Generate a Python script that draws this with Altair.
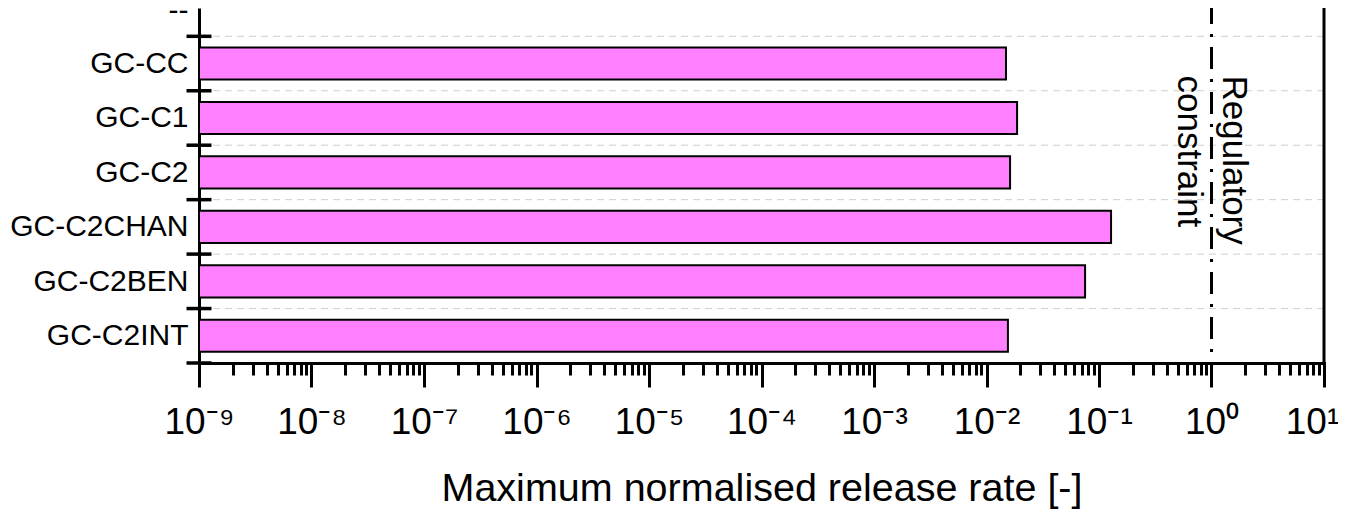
import altair as alt
import pandas as pd

# ---- data ----
categories = ["GC-CC", "GC-C1", "GC-C2", "GC-C2CHAN", "GC-C2BEN", "GC-C2INT"]
release_rate = [0.0149, 0.0187, 0.0162, 0.128, 0.0752, 0.0155]
top_label = "--"
tick_values = [1e-9, 1e-8, 1e-7, 1e-6, 1e-5, 1e-4, 1e-3, 1e-2, 1e-1, 1e0, 1e1]
tick_labels = ["10⁻⁹", "10⁻⁸", "10⁻⁷", "10⁻⁶", "10⁻⁵", "10⁻⁴",
               "10⁻³", "10⁻²", "10⁻¹", "10⁰", "10¹"]
minor_values = [m * 10.0 ** e for e in range(-9, 1) for m in range(2, 10)]
regulatory_limit = [1.0]
annotation_lines = ["Regulatory", "constraint"]
x_title = "Maximum normalised release rate [-]"

FONT = "Liberation Sans, Arial, sans-serif"
n = len(categories)

bars_df = pd.DataFrame({
    "category": categories,
    "value": release_rate,
    "pos": [n - 1 - i for i in range(n)],
})
bounds_df = pd.DataFrame({"b": list(range(n + 1))})
limit_df = pd.DataFrame({"limit": regulatory_limit})

y_names = list(reversed(categories)) + [top_label]
y_label_values = [i + 0.5 for i in range(n)] + [n + 0.47]
y_label_expr = "[" + ",".join("'" + s + "'" for s in y_names) + "][floor(datum.value)]"
x_label_expr = "[" + ",".join("'" + s + "'" for s in tick_labels) + "][round(log(datum.value)/LN10) + 9]"

xscale = alt.Scale(type="log", domain=[1e-9, 10], nice=False)
yscale = alt.Scale(domain=[0, 6.52], nice=False, zero=False)

x_axis = alt.Axis(
    orient="bottom", values=tick_values, labelExpr=x_label_expr,
    tickSize=24, tickWidth=3, tickColor="black",
    domain=True, domainWidth=3, domainColor="black", domainCap="square",
    grid=False, labelFont=FONT, labelFontSize=37, labelColor="black",
    labelPadding=17, labelOverlap=False, labelFlush=False, labelBound=False,
    labelOffset={"condition": {"test": "datum.value >= 10", "value": -12}, "value": 0},
    title=x_title, titleFont=FONT, titleFontSize=39.5, titleFontWeight="normal",
    titleColor="black", titleY=137, titleBaseline="alphabetic",
)
x_minor_axis = alt.Axis(
    orient="bottom", values=minor_values, labels=False,
    tickSize=12, tickWidth=3, tickColor="black",
    domain=False, grid=False, title=None,
)
y_axis = alt.Axis(
    orient="left", values=y_label_values, labelExpr=y_label_expr,
    ticks=False, labelPadding=11, labelFont=FONT, labelFontSize=30,
    labelColor="black", labelBaseline="middle", labelOverlap=False,
    labelFlush=False, labelBound=False,
    domain=True, domainWidth=3, domainColor="black", grid=False, title=None,
)

bars = alt.Chart(bars_df).transform_calculate(
    y0="datum.pos + 0.205", y1="datum.pos + 0.795", base="1e-9"
).mark_rect(fill="#FF80FF", stroke="black", strokeWidth=2).encode(
    x=alt.X("value:Q", scale=xscale, axis=x_axis),
    x2="base:Q",
    y=alt.Y("y0:Q", scale=yscale, axis=y_axis),
    y2="y1:Q",
)

grid = alt.Chart(bounds_df).transform_filter("datum.b > 0").mark_rule(
    color="#cfcfcf", strokeDash=[7, 5], strokeWidth=1
).encode(y=alt.Y("b:Q", scale=yscale, axis=y_axis))

ycross = alt.Chart(bounds_df).transform_calculate(base="1e-9").mark_tick(
    orient="horizontal", size=25, thickness=3.5, color="black", opacity=1
).encode(
    x=alt.X("base:Q", scale=xscale, axis=x_axis),
    y=alt.Y("b:Q", scale=yscale, axis=y_axis),
)

right_line = alt.Chart(limit_df).transform_calculate(edge="10").mark_rule(
    color="black", strokeWidth=3
).encode(x=alt.X("edge:Q", scale=xscale, axis=x_axis))

annotation = alt.Chart(limit_df).transform_calculate(ty="5.28").mark_text(
    text=annotation_lines, angle=90, align="left", baseline="alphabetic",
    font=FONT, fontSize=35, lineHeight=45, dy=-11, color="black",
).encode(
    x=alt.X("limit:Q", scale=xscale, axis=x_axis),
    y=alt.Y("ty:Q", scale=yscale, axis=y_axis),
)

group_a = alt.layer(bars, grid, ycross, right_line, annotation)

reg_line = alt.Chart(limit_df).mark_rule(
    color="black", strokeWidth=3, strokeDash=[22, 10, 3, 10], strokeDashOffset=6
).encode(x=alt.X("limit:Q", scale=xscale, axis=x_minor_axis))

chart = alt.layer(group_a, reg_line).resolve_scale(x="independent").properties(
    width=1125, height=355,
    autosize=alt.AutoSizeParams(type="none"),
    padding={"left": 191, "top": 0, "right": 14, "bottom": 146},
).configure_view(stroke=None)

chart.save("out.html", embed_options={"renderer": "svg", "actions": False})
